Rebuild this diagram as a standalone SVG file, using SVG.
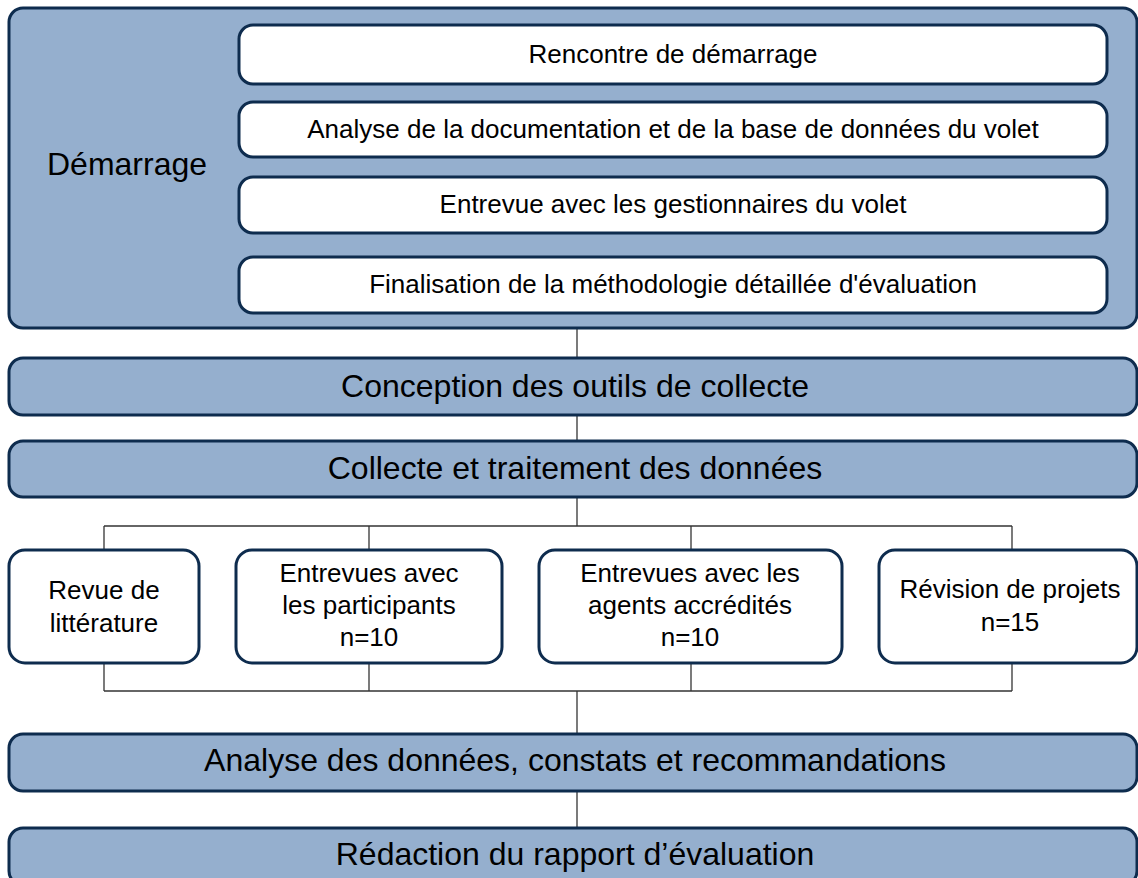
<svg xmlns="http://www.w3.org/2000/svg" width="1138" height="878" viewBox="0 0 1138 878">
<style>
.band{fill:#95afce;stroke:#0e2c4e;stroke-width:3}
.wbox{fill:#ffffff;stroke:#0e2c4e;stroke-width:3}
.t{font-family:"Liberation Sans",Arial,sans-serif;fill:#000;text-anchor:middle}
.big{font-size:32px}
.sm{font-size:26px}
.ln{stroke:#333;stroke-width:1.3;fill:none}
</style>
<rect width="1138" height="878" fill="#ffffff"/>
<g id="connectors">
<line class="ln" x1="577" y1="328" x2="577" y2="358"/>
<line class="ln" x1="577" y1="415" x2="577" y2="441"/>
<line class="ln" x1="577" y1="497" x2="577" y2="526"/>
<line class="ln" x1="104" y1="526" x2="1012" y2="526"/>
<line class="ln" x1="104" y1="526" x2="104" y2="550"/>
<line class="ln" x1="369" y1="526" x2="369" y2="550"/>
<line class="ln" x1="691" y1="526" x2="691" y2="550"/>
<line class="ln" x1="1012" y1="526" x2="1012" y2="550"/>
<line class="ln" x1="104" y1="663" x2="104" y2="691"/>
<line class="ln" x1="369" y1="663" x2="369" y2="691"/>
<line class="ln" x1="691" y1="663" x2="691" y2="691"/>
<line class="ln" x1="1012" y1="663" x2="1012" y2="691"/>
<line class="ln" x1="104" y1="691" x2="1012" y2="691"/>
<line class="ln" x1="577" y1="691" x2="577" y2="734"/>
<line class="ln" x1="577" y1="791" x2="577" y2="828"/>
</g>
<g id="demarrage">
<rect class="band" x="9" y="8" width="1128" height="320" rx="14"/>
<text class="t big" x="127" y="175">Démarrage</text>
</g>
<g id="rencontre">
<rect class="wbox" x="239" y="25" width="868" height="59" rx="14"/>
<text class="t sm" x="673" y="63">Rencontre de démarrage</text>
</g>
<g id="analyse-doc">
<rect class="wbox" x="239" y="102" width="868" height="55" rx="14"/>
<text class="t sm" x="673" y="138">Analyse de la documentation et de la base de données du volet</text>
</g>
<g id="entrevue-gest">
<rect class="wbox" x="239" y="177" width="868" height="56" rx="14"/>
<text class="t sm" x="673" y="213">Entrevue avec les gestionnaires du volet</text>
</g>
<g id="finalisation">
<rect class="wbox" x="239" y="257" width="868" height="56" rx="14"/>
<text class="t sm" x="673" y="293">Finalisation de la méthodologie détaillée d'évaluation</text>
</g>
<g id="conception">
<rect class="band" x="9" y="358" width="1128" height="57" rx="14"/>
<text class="t big" x="575" y="397">Conception des outils de collecte</text>
</g>
<g id="collecte">
<rect class="band" x="9" y="441" width="1128" height="56" rx="14"/>
<text class="t big" x="575" y="479">Collecte et traitement des données</text>
</g>
<g id="revue">
<rect class="wbox" x="9" y="550" width="190" height="113" rx="16"/>
<text class="t sm" x="104" y="599">Revue de</text>
<text class="t sm" x="104" y="632">littérature</text>
</g>
<g id="participants">
<rect class="wbox" x="236" y="550" width="266" height="113" rx="16"/>
<text class="t sm" x="369" y="582">Entrevues avec</text>
<text class="t sm" x="369" y="614">les participants</text>
<text class="t sm" x="369" y="646">n=10</text>
</g>
<g id="agents">
<rect class="wbox" x="539" y="550" width="303" height="113" rx="16"/>
<text class="t sm" x="690" y="582">Entrevues avec les</text>
<text class="t sm" x="690" y="614">agents accrédités</text>
<text class="t sm" x="690" y="646">n=10</text>
</g>
<g id="revision">
<rect class="wbox" x="879" y="550" width="258" height="113" rx="16"/>
<text class="t sm" x="1010" y="598">Révision de projets</text>
<text class="t sm" x="1010" y="631">n=15</text>
</g>
<g id="analyse-donnees">
<rect class="band" x="9" y="734" width="1128" height="57" rx="14"/>
<text class="t big" x="575" y="771">Analyse des données, constats et recommandations</text>
</g>
<g id="redaction">
<rect class="band" x="9" y="828" width="1128" height="57" rx="14"/>
<text class="t big" x="575" y="865">Rédaction du rapport d’évaluation</text>
</g>
</svg>
